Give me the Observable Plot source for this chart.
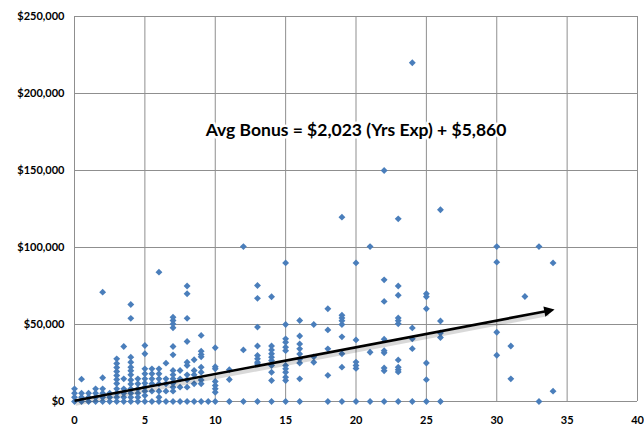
<!DOCTYPE html>
<html><head><meta charset="utf-8">
<script src="https://cdn.jsdelivr.net/npm/d3@7"></script>
<script src="https://cdn.jsdelivr.net/npm/@observablehq/plot@0.6"></script>
<style>html,body{margin:0;padding:0;background:#fff;}</style>
</head><body><div id="chart"></div>
<script>
// Years of experience (columns) and the bonuses observed in each column
const years = [0,0.5,1,1.5,2,2.5,3,3.5,4,4.5,5,5.5,6,6.5,7,7.5,8,8.5,9,9.5,10,
  11,12,13,14,15,16,17,18,19,20,21,22,23,24,25,26,30,31,32,33,34];
const bonuses = [
  [0,2800,5400,8200],
  [0,2800,5400,14500],
  [0,2800,5400],
  [0,2800,5400,8200],
  [0,2800,5400,8200,15400,71000],
  [0,2800,5400],
  [0,2800,5400,8200,11700,14300,16900,19500,22100,24700,27700],
  [0,2800,5400,8200,14700,35700],
  [0,2800,5400,8200,11300,14000,17300,20000,22300,25500,28800,54000,63000],
  [0,2800,5400,8200,11500,14700],
  [0,3900,6700,9300,11900,14700,18000,21200,31000,36400],
  [0,6700,11500,14700,18000,21200],
  [0,2800,6700,11500,14700,18000,21200,84000],
  [0,6700,11500,14700,24900],
  [0,6700,9300,11900,14700,17300,20100,30300,35700,47900,50400,52600,54700],
  [0,9300,14700,20100],
  [0,9300,14100,17300,23400,25500,39000,54000,70000,75000],
  [0,11500,17300,20100,27100],
  [0,11500,14000,19000,22300,29000,30600,32700,42900],
  [0],
  [0,6000,8200,10400,13000,21200,22600,34900],
  [0,14300,20600],
  [0,33500,100600],
  [0,24400,25500,27700,29900,36000,48300,67000,75300],
  [0,13600,19000,23400,26600,28800,31000,33500,36000,68000],
  [0,13600,15800,19000,21200,23400,33000,35300,38500,40700,50000,90000],
  [0,14700,25000,27600,30900,34200,37400,42500,52600],
  [25500,29000,50000],
  [0,17000,34200,46500,60200],
  [0,22300,31000,42000,50000,52400,54300,56000,119700],
  [0,21500,23400,25600,40000,90000],
  [0,32000,100600],
  [0,20000,21800,31600,33000,40500,65000,79000,150000],
  [0,19200,20600,22300,27000,50500,52500,54300,69000,75000,118600],
  [0,34300,40700,47800,220000],
  [0,14200,25000,60200,68000,70000],
  [0,41600,44500,52300,124500],
  [30000,45000,90500,100600],
  [14700,36000],
  [68200],
  [0,100600],
  [6700,90000]
];
const xTicks = [0,5,10,15,20,25,30,35,40];
const yTicks = [0,50000,100000,150000,200000,250000];
// fitted trend arrow, as drawn
const trendYears = [0, 33.6];
const trendBonus = [500, 58800];
const equationText = ["Avg Bonus = $2,023 (Yrs Exp) + $5,860"];
const equationAt = [20.0, 176000];

const points = years.flatMap((yr, i) => bonuses[i].map(b => ({year: yr, bonus: b})));
const trend = [{x1: trendYears[0], y1: trendBonus[0], x2: trendYears[1], y2: trendBonus[1]}];
const label = [{x: equationAt[0], y: equationAt[1], text: equationText[0]}];

function headMarker(color) {
  const m = d3.create("svg:marker")
    .attr("viewBox", "0 -5 10 10").attr("refX", 3).attr("refY", 0)
    .attr("markerWidth", 4.6).attr("markerHeight", 4).attr("orient", "auto")
    .attr("fill", color).attr("stroke", "none");
  m.append("path").attr("d", "M0,-5L10,0L0,5Z");
  return m.node();
}

function build(useCustom) {
  const lineMarks = useCustom ? [
    Plot.link(trend, {x1: "x1", y1: "y1", x2: "x2", y2: "y2", stroke: "#000", strokeOpacity: 0.15, strokeWidth: 4, dx: 1, dy: 3}),
    Plot.link(trend, {x1: "x1", y1: "y1", x2: "x2", y2: "y2", stroke: "#000", strokeWidth: 2.6, markerEnd: headMarker})
  ] : [
    Plot.arrow(trend, {x1: "x1", y1: "y1", x2: "x2", y2: "y2", stroke: "#000", strokeWidth: 2.6, headLength: 11, headAngle: 50})
  ];
  return Plot.plot({
    width: 644, height: 429,
    marginLeft: 74, marginRight: 7, marginTop: 16, marginBottom: 28,
    style: {fontFamily: "Lato, 'Open Sans', sans-serif", fontWeight: "bold", fontSize: "11px", color: "#000", background: "#fff"},
    x: {domain: [0, 40], ticks: xTicks, tickSize: 0, tickPadding: 15, label: null},
    y: {domain: [0, 250000], ticks: yTicks, tickFormat: d3.format("$,"), tickSize: 0, tickPadding: 10, label: null},
    marks: [
      Plot.gridX(xTicks, {stroke: "#8f8f8f", strokeOpacity: 1}),
      Plot.gridY(yTicks, {stroke: "#8f8f8f", strokeOpacity: 1}),
      Plot.dot(points, {x: "year", y: "bonus", symbol: "diamond2", r: 3.1, fill: "#4a7ebb", stroke: "none"}),
      ...lineMarks,
      Plot.text(label, {x: "x", y: "y", text: "text", fontSize: 17.5, fontWeight: "bold", fill: "#000", stroke: "#fff", strokeWidth: 5, paintOrder: "stroke"})
    ]
  });
}
let chart;
try { chart = build(true); } catch (e) { chart = build(false); }
document.getElementById("chart").appendChild(chart);
</script>
</body></html>
